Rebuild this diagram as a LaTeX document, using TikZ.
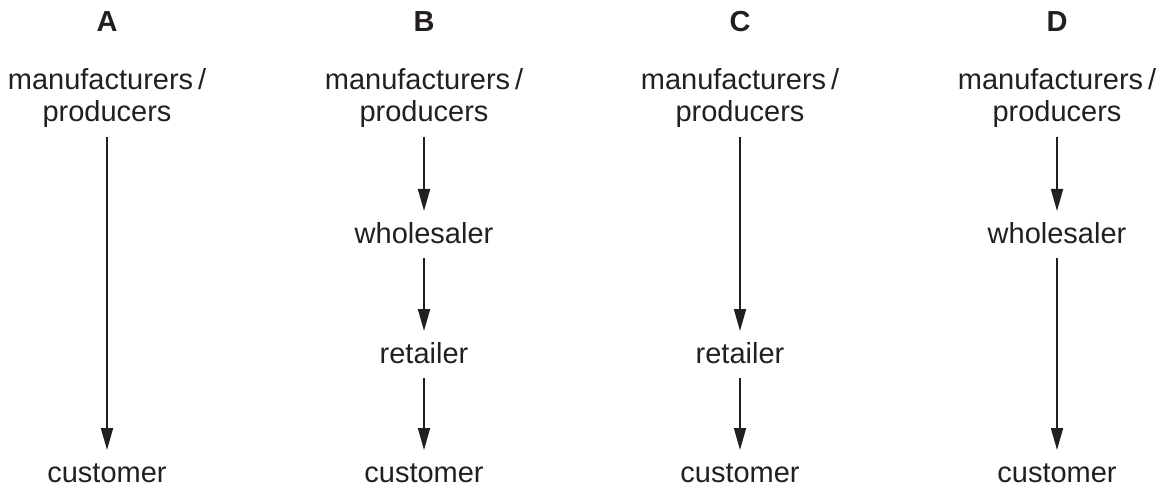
\documentclass[tikz,border=0pt]{standalone}
\usepackage{fontspec}
\setmainfont{Liberation Sans}
\usetikzlibrary{arrows.meta}
\begin{document}
\begin{tikzpicture}[x=1pt,y=-1pt,
  lbl/.style={font=\fontsize{29}{32}\selectfont, inner sep=0pt, outer sep=0pt, text height=21pt, text depth=0pt},
  head/.style={font=\fontsize{29}{32}\selectfont\bfseries, inner sep=0pt, anchor=base},
  src/.style={lbl, align=center, anchor=south},
  tgt/.style={lbl, anchor=base},
  flow/.style={line width=1.8pt, draw={rgb,255:red,35;green,31;blue,32}, -{Triangle[width=12pt,length=22pt]}, shorten <=15pt, shorten >=11pt}
]
\useasboundingbox (0,0) rectangle (1164,489);
\definecolor{ink}{RGB}{35,31,32}
\begin{scope}[every node/.append style={text=ink}]
% column A
\node[head] (hA) at (107,32) {A};
\node[src] (mA) at (107,122) {manufacturers\,/\\producers};
\node[tgt] (cA) at (107,482) {customer};
% column B
\node[head] (hB) at (424,32) {B};
\node[src] (mB) at (424,122) {manufacturers\,/\\producers};
\node[tgt] (wB) at (424,243) {wholesaler};
\node[tgt] (rB) at (424,363) {retailer};
\node[tgt] (cB) at (424,482) {customer};
% column C
\node[head] (hC) at (740,32) {C};
\node[src] (mC) at (740,122) {manufacturers\,/\\producers};
\node[tgt] (rC) at (740,363) {retailer};
\node[tgt] (cC) at (740,482) {customer};
% column D
\node[head] (hD) at (1057,32) {D};
\node[src] (mD) at (1057,122) {manufacturers\,/\\producers};
\node[tgt] (wD) at (1057,243) {wholesaler};
\node[tgt] (cD) at (1057,482) {customer};
\end{scope}
\draw[flow] (mA.south) -- (cA.north);
\draw[flow] (mB.south) -- (wB.north);
\draw[flow] (wB.base) -- (rB.north);
\draw[flow] (rB.base) -- (cB.north);
\draw[flow] (mC.south) -- (rC.north);
\draw[flow] (rC.base) -- (cC.north);
\draw[flow] (mD.south) -- (wD.north);
\draw[flow] (wD.base) -- (cD.north);
\end{tikzpicture}
\end{document}
